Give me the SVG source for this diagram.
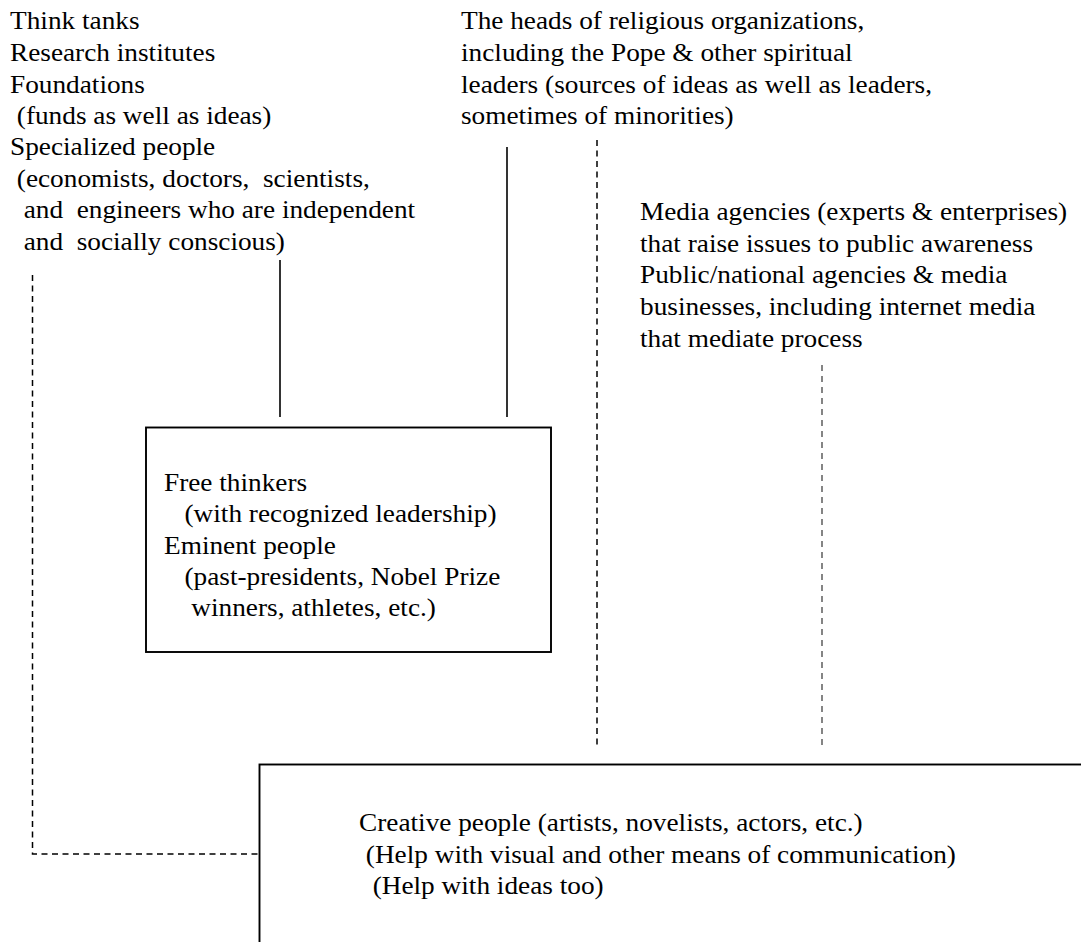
<svg xmlns="http://www.w3.org/2000/svg" width="1081" height="942" viewBox="0 0 1081 942">
<style>
text{font-family:'Liberation Serif','Times New Roman',serif;font-size:25.2px;fill:#000;white-space:pre}
.solid{stroke:#000;stroke-width:1.6;fill:none}
.dash{stroke:#000;stroke-width:1.5;fill:none;stroke-dasharray:6 4.5}
.dashg{stroke:#444;stroke-width:1.3;fill:none;stroke-dasharray:6 5}
.box{fill:#fff;stroke:#000;stroke-width:1.9}
</style>
<rect width="1081" height="942" fill="#fff"/>
<g id="connectors">
<path class="solid" d="M280 260V417"/>
<path class="solid" d="M507 147V417"/>
<path class="dash" d="M597 140V749"/>
<path class="dashg" d="M822 365V749"/>
<path class="dash" d="M32.5 275V854H259"/>
</g>
<g id="think-tanks" transform="translate(10,0) scale(1.083,1)">
<text x="0" y="29.3" xml:space="preserve">Think tanks</text>
<text x="0" y="61" xml:space="preserve">Research institutes</text>
<text x="0" y="92.7" xml:space="preserve">Foundations</text>
<text x="0" y="123.8" xml:space="preserve"> (funds as well as ideas)</text>
<text x="0" y="155" xml:space="preserve">Specialized people</text>
<text x="0" y="186.7" xml:space="preserve"> (economists, doctors,  scientists,</text>
<text x="0" y="218.3" xml:space="preserve">  and  engineers who are independent</text>
<text x="0" y="250" xml:space="preserve">  and  socially conscious)</text>
</g>
<g id="religious-heads" transform="translate(461,0) scale(1.083,1)">
<text x="0" y="29.3" xml:space="preserve">The heads of religious organizations,</text>
<text x="0" y="61" xml:space="preserve">including the Pope &amp; other spiritual</text>
<text x="0" y="92.7" xml:space="preserve">leaders (sources of ideas as well as leaders,</text>
<text x="0" y="124" xml:space="preserve">sometimes of minorities)</text>
</g>
<g id="media-agencies" transform="translate(640,0) scale(1.083,1)">
<text x="0" y="220" xml:space="preserve">Media agencies (experts &amp; enterprises)</text>
<text x="0" y="251.7" xml:space="preserve">that raise issues to public awareness</text>
<text x="0" y="283.4" xml:space="preserve">Public/national agencies &amp; media</text>
<text x="0" y="315" xml:space="preserve">businesses, including internet media</text>
<text x="0" y="346.7" xml:space="preserve">that mediate process</text>
</g>
<g id="free-thinkers">
<rect class="box" x="146" y="427.5" width="405" height="224.5"/>
<g transform="translate(164,0) scale(1.083,1)">
<text x="0" y="491" xml:space="preserve">Free thinkers</text>
<text x="0" y="522.5" xml:space="preserve">   (with recognized leadership)</text>
<text x="0" y="554" xml:space="preserve">Eminent people</text>
<text x="0" y="585.3" xml:space="preserve">   (past-presidents, Nobel Prize</text>
<text x="0" y="616.5" xml:space="preserve">    winners, athletes, etc.)</text>
</g>
</g>
<g id="creative-people">
<rect class="box" x="259.5" y="764.5" width="900" height="300"/>
<g transform="translate(359,0) scale(1.083,1)">
<text x="0" y="831" xml:space="preserve">Creative people (artists, novelists, actors, etc.)</text>
<text x="0" y="863" xml:space="preserve"> (Help with visual and other means of communication)</text>
<text x="0" y="894.5" xml:space="preserve">  (Help with ideas too)</text>
</g>
</g>
</svg>
